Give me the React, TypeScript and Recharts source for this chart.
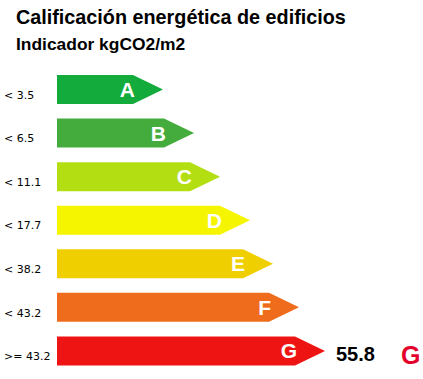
import { BarChart, Bar, XAxis, YAxis, Cell } from "recharts";

const clases = ["A", "B", "C", "D", "E", "F", "G"];
const limites = ["< 3.5", "< 6.5", "< 11.1", "< 17.7", "< 38.2", "< 43.2", ">= 43.2"];
// longitud de cada flecha (escala 0..366)
const longitudes = [106, 137, 163, 193, 216, 242, 268];
const colores = ["#13ab3c", "#43ac3c", "#b2de12", "#f5f500", "#f0cf00", "#ef6c1c", "#ef1414"];

const valorEdificio = 55.8;
const claseEdificio = "G";

const datos = clases.map((c, i) => ({
  clase: c,
  limite: limites[i],
  largo: longitudes[i],
}));

const PUNTA = 30;

function Flecha(props: any) {
  const { x, y, width, height, fill, payload } = props;
  const fin = x + width;
  const cuerpo = fin - PUNTA;
  const medio = y + height / 2;
  const puntos = `${x},${y} ${cuerpo},${y} ${fin},${medio} ${cuerpo},${y + height} ${x},${y + height}`;
  return (
    <g>
      <polygon points={puntos} fill={fill} />
      <text
        x={cuerpo + 2}
        y={medio}
        dy="0.36em"
        textAnchor="end"
        fill="#ffffff"
        fontFamily="Liberation Sans, Arial, sans-serif"
        fontWeight="bold"
        fontSize={21}
      >
        {payload.clase}
      </text>
      {payload.clase === claseEdificio && (
        <g>
          <text
            x={fin + 11}
            y={medio + 3}
            dy="0.36em"
            fill="#000"
            fontFamily="Liberation Sans, Arial, sans-serif"
            fontWeight="bold"
            fontSize={20}
          >
            {valorEdificio}
          </text>
          <text
            x={fin + 76}
            y={medio + 4}
            dy="0.36em"
            fill="#e4002b"
            fontFamily="Liberation Sans, Arial, sans-serif"
            fontWeight="bold"
            fontSize={25}
          >
            {claseEdificio}
          </text>
        </g>
      )}
    </g>
  );
}

function TickLimite(props: any) {
  const { y, payload } = props;
  return (
    <text
      x={4}
      y={y + 5}
      dy="0.36em"
      fill="#000"
      fontFamily="DejaVu Sans, Verdana, sans-serif"
      fontSize={11}
    >
      {payload.value}
    </text>
  );
}

function App() {
  return (
    <div style={{ position: "absolute", left: 0, top: 0, width: 423, height: 379, background: "#fff" }}>
      <div
        style={{
          position: "absolute",
          left: 16,
          top: 5,
          fontFamily: "Liberation Sans, Arial, sans-serif",
          fontWeight: "bold",
          fontSize: 19.8,
          lineHeight: "24px",
          whiteSpace: "nowrap",
        }}
      >
        Calificación energética de edificios
      </div>
      <div
        style={{
          position: "absolute",
          left: 16,
          top: 34,
          fontFamily: "Liberation Sans, Arial, sans-serif",
          fontWeight: "bold",
          fontSize: 17.4,
          lineHeight: "20px",
          whiteSpace: "nowrap",
        }}
      >
        Indicador kgCO2/m2
      </div>
      <BarChart
        width={423}
        height={379}
        data={datos}
        layout="vertical"
        margin={{ top: 68, right: 0, bottom: 6, left: 0 }}
        barCategoryGap={0}
        style={{ position: "absolute", left: 0, top: 0 }}
      >
        <XAxis type="number" domain={[0, 366]} hide />
        <YAxis
          type="category"
          dataKey="limite"
          width={57}
          axisLine={false}
          tickLine={false}
          tick={<TickLimite />}
        />
        <Bar dataKey="largo" barSize={29} shape={<Flecha />} isAnimationActive={false}>
          {datos.map((d, i) => (
            <Cell key={d.clase} fill={colores[i]} />
          ))}
        </Bar>
      </BarChart>
    </div>
  );
}

export default App;
